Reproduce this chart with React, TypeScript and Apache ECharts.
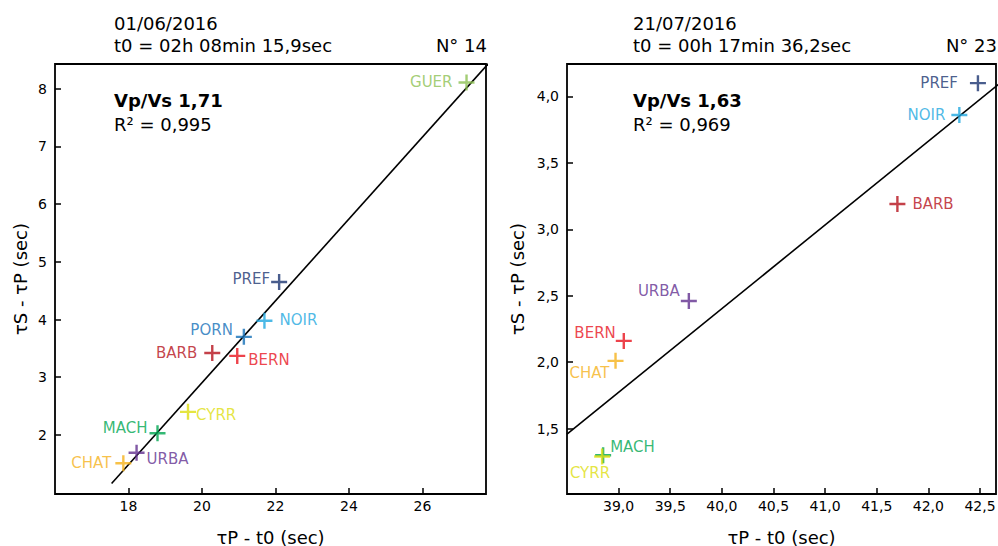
import React, { useEffect, useRef } from "react";
import * as echarts from "echarts";

// ---- Data ----
const leftStations = ["GUER", "PREF", "NOIR", "PORN", "BARB", "BERN", "CYRR", "MACH", "URBA", "CHAT"];
const leftTpT0 = [27.2, 22.1, 21.7, 21.14, 20.28, 20.96, 19.62, 18.79, 18.22, 17.86];
const leftTsTp = [8.11, 4.65, 3.98, 3.7, 3.42, 3.37, 2.4, 2.03, 1.69, 1.51];

const rightStations = ["PREF", "NOIR", "BARB", "URBA", "BERN", "CHAT", "MACH", "CYRR"];
const rightTpT0 = [42.48, 42.3, 41.7, 39.68, 39.05, 38.97, 38.85, 38.84];
const rightTsTp = [4.1, 3.86, 3.19, 2.46, 2.16, 2.01, 1.3, 1.29];

// regression lines: y = slope * x + intercept, drawn over [xFrom, xTo]
const regSlope = [0.71, 0.63];
const regIntercept = [-11.296, -22.797];
const regXFrom = [17.54, 38.5];
const regXTo = [28.5, 43.0];

const leftXTicks = [18, 20, 22, 24, 26];
const leftYTicks = [2, 3, 4, 5, 6, 7, 8];
const rightXTicks = [39.0, 39.5, 40.0, 40.5, 41.0, 41.5, 42.0, 42.5];
const rightYTicks = [1.5, 2.0, 2.5, 3.0, 3.5, 4.0];

const titles = [
  { date: "01/06/2016", t0: "t0 = 02h 08min 15,9sec", num: "N° 14", vpvs: "Vp/Vs 1,71", r2: "R² = 0,995" },
  { date: "21/07/2016", t0: "t0 = 00h 17min 36,2sec", num: "N° 23", vpvs: "Vp/Vs 1,63", r2: "R² = 0,969" },
];

// ---- Styles ----
const stationColors: Record<string, string> = {
  GUER: "#8cc152",
  PREF: "#1c3570",
  NOIR: "#1fa8e0",
  PORN: "#1570b8",
  BARB: "#b5121b",
  BERN: "#e8141e",
  CYRR: "#dede10",
  MACH: "#00a651",
  URBA: "#62308f",
  CHAT: "#f5b21a",
};

type Place = { align: "left" | "right"; dx: number; dy: number };
const leftPlace: Record<string, Place> = {
  GUER: { align: "right", dx: -14, dy: 0 },
  PREF: { align: "right", dx: -9, dy: -3 },
  NOIR: { align: "left", dx: 15, dy: -1 },
  PORN: { align: "right", dx: -11, dy: -7 },
  BARB: { align: "right", dx: -15, dy: 0 },
  BERN: { align: "left", dx: 11, dy: 4 },
  CYRR: { align: "left", dx: 8, dy: 3 },
  MACH: { align: "right", dx: -10, dy: -5 },
  URBA: { align: "left", dx: 10, dy: 6 },
  CHAT: { align: "right", dx: -12, dy: 0 },
};
const rightPlace: Record<string, Place> = {
  PREF: { align: "right", dx: -20, dy: 0 },
  NOIR: { align: "right", dx: -14, dy: 0 },
  BARB: { align: "left", dx: 15, dy: 0 },
  URBA: { align: "right", dx: -9, dy: -10 },
  BERN: { align: "right", dx: -8, dy: -8 },
  CHAT: { align: "right", dx: -6, dy: 12 },
  MACH: { align: "left", dx: 7, dy: -8 },
  CYRR: { align: "right", dx: 8, dy: 16 },
};

const FONT = "DejaVu Sans";
const PLUS = "path://M6.8 0H9.2V6.8H16V9.2H9.2V16H6.8V9.2H0V6.8H6.8Z";

const grids = [
  { left: 55, top: 64, width: 431, height: 430 },
  { left: 567, top: 64, width: 429, height: 430 },
];
const xRanges = [
  [16.0, 27.73],
  [38.5, 42.655],
];
const yRanges = [
  [0.976, 8.43],
  [1.008, 4.244],
];

function fmtComma(v: number, d: number) {
  return v.toFixed(d).replace(".", ",");
}

export default function App() {
  const ref = useRef<HTMLDivElement>(null);
  useEffect(() => {
    if (!ref.current) return;
    const chart = echarts.init(ref.current, null, { renderer: "svg" });

    const xTicks = [leftXTicks, rightXTicks];
    const yTicks = [leftYTicks, rightYTicks];
    const xDec = [0, 1];
    const yDec = [0, 1];
    const yNameGap = [26, 41];

    const xAxes = [0, 1].map((i) => ({
      type: "value",
      gridIndex: i,
      min: xRanges[i][0],
      max: xRanges[i][1],
      name: "τP - t0 (sec)",
      nameLocation: "middle",
      nameGap: 34,
      nameTextStyle: { fontFamily: FONT, fontSize: 18, color: "#000" },
      axisLine: { show: false },
      splitLine: { show: false },
      axisTick: {
        show: true,
        inside: true,
        length: 6,
        lineStyle: { color: "#000", width: 1.5 },
        customValues: xTicks[i],
      },
      axisLabel: {
        fontFamily: FONT,
        fontSize: 14,
        color: "#000",
        margin: 5,
        customValues: xTicks[i],
        formatter: (v: number) => fmtComma(v, xDec[i]),
      },
    }));
    const yAxes = [0, 1].map((i) => ({
      type: "value",
      gridIndex: i,
      min: yRanges[i][0],
      max: yRanges[i][1],
      name: "τS - τP (sec)",
      nameLocation: "middle",
      nameGap: yNameGap[i],
      nameTextStyle: { fontFamily: FONT, fontSize: 18, color: "#000" },
      axisLine: { show: false },
      splitLine: { show: false },
      axisTick: {
        show: true,
        inside: true,
        length: 6,
        lineStyle: { color: "#000", width: 1.5 },
        customValues: yTicks[i],
      },
      axisLabel: {
        fontFamily: FONT,
        fontSize: 14,
        color: "#000",
        margin: 8,
        customValues: yTicks[i],
        formatter: (v: number) => fmtComma(v, yDec[i]),
      },
    }));

    const mkPoints = (names: string[], xs: number[], ys: number[], place: Record<string, Place>) =>
      names.map((n, k) => ({
        name: n,
        value: [xs[k], ys[k]],
        itemStyle: { color: stationColors[n] },
        label: {
          show: true,
          position: "inside",
          formatter: "{b}",
          align: place[n].align,
          verticalAlign: "middle",
          offset: [place[n].dx, place[n].dy],
          color: stationColors[n],
          fontFamily: FONT,
          fontSize: 15,
        },
      }));

    const lineSeries = [0, 1].map((i) => ({
      type: "line",
      xAxisIndex: i,
      yAxisIndex: i,
      showSymbol: false,
      symbol: "none",
      clip: true,
      silent: true,
      lineStyle: { color: "#000", width: 1.6 },
      data: [regXFrom[i], regXTo[i]].map((x) => [x, regSlope[i] * x + regIntercept[i]]),
      z: 2,
    }));

    const scatterSeries = [
      { names: leftStations, xs: leftTpT0, ys: leftTsTp, place: leftPlace },
      { names: rightStations, xs: rightTpT0, ys: rightTsTp, place: rightPlace },
    ].map((s, i) => ({
      type: "scatter",
      xAxisIndex: i,
      yAxisIndex: i,
      symbol: PLUS,
      symbolSize: 16,
      clip: false,
      data: mkPoints(s.names, s.xs, s.ys, s.place),
      z: 3,
    }));

    const textEls: any[] = [];
    const txtX = [114, 633];
    const numRight = [487, 997];
    titles.forEach((t, i) => {
      const base = { fontFamily: FONT, fontSize: 18, fill: "#000", textVerticalAlign: "middle" };
      textEls.push({ type: "text", x: txtX[i], y: 23, style: { ...base, text: t.date, textAlign: "left" } });
      textEls.push({ type: "text", x: txtX[i], y: 45, style: { ...base, text: t.t0, textAlign: "left" } });
      textEls.push({ type: "text", x: numRight[i], y: 45, style: { ...base, text: t.num, textAlign: "right" } });
      textEls.push({
        type: "text",
        x: txtX[i],
        y: 100,
        z: 10,
        style: { ...base, text: t.vpvs, fontWeight: "bold", textAlign: "left" },
      });
      textEls.push({ type: "text", x: txtX[i], y: 124, z: 10, style: { ...base, text: t.r2, textAlign: "left" } });
    });

    chart.setOption({
      animation: false,
      backgroundColor: "#fff",
      grid: grids.map((g) => ({
        ...g,
        show: true,
        borderColor: "#000",
        borderWidth: 1.8,
        backgroundColor: "transparent",
        containLabel: false,
        outerBoundsMode: "none",
      })),
      xAxis: xAxes,
      yAxis: yAxes,
      series: [...lineSeries, ...scatterSeries],
      graphic: textEls,
    });
    return () => chart.dispose();
  }, []);
  return (
    <div
      ref={ref}
      style={{ position: "fixed", left: 0, top: 0, width: 998, height: 546, background: "#fff" }}
    />
  );
}
